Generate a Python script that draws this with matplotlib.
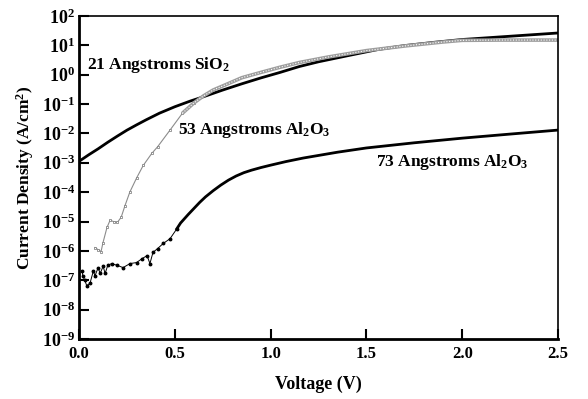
import numpy as np
import matplotlib
matplotlib.use("Agg")
import matplotlib.pyplot as plt
from matplotlib.ticker import FixedLocator, FixedFormatter

# 21 Angstroms SiO2 (solid black)
v_sio2 = [0.0, 0.05, 0.1, 0.15, 0.2, 0.25, 0.3, 0.35, 0.42, 0.5, 0.58, 0.65,
          0.75, 0.85, 0.95, 1.05, 1.15, 1.25, 1.4, 1.56, 1.7, 1.85, 2.0,
          2.25, 2.5]
j_sio2 = [1.12e-3, 1.86e-3, 3.0e-3, 5.0e-3, 8.1e-3, 1.29e-2, 1.95e-2,
          2.9e-2, 4.9e-2, 8.1e-2, 0.126, 0.178, 0.30, 0.49, 0.78, 1.2, 1.9,
          2.75, 4.4, 7.2, 9.8, 12.6, 15.8, 20.4, 26.3]

# 53 Angstroms Al2O3 (grey, open squares)
v_53 = [0.083, 0.10, 0.115, 0.125, 0.146, 0.162, 0.18, 0.20, 0.22, 0.24,
        0.265, 0.30, 0.335, 0.38, 0.41, 0.475, 0.54, 0.60, 0.65, 0.70, 0.77,
        0.85, 0.95, 1.05, 1.15, 1.30, 1.50, 1.70, 1.90, 2.0, 2.2, 2.5]
j_53 = [1.3e-6, 1.1e-6, 9.5e-7, 1.9e-6, 6.3e-6, 1.1e-5, 1.0e-5, 9.3e-6,
        1.4e-5, 3.5e-5, 1.0e-4, 3.0e-4, 8.1e-4, 2.1e-3, 3.5e-3, 1.3e-2,
        4.9e-2, 0.11, 0.19, 0.30, 0.47, 0.79, 1.2, 1.8, 2.6, 4.0, 6.6, 9.5,
        13.0, 14.8, 15.1, 15.1]

# 73 Angstroms Al2O3 (black dots)
v_73 = [0.016, 0.02, 0.03, 0.04, 0.057, 0.075, 0.083, 0.10, 0.11, 0.126,
        0.136, 0.15, 0.17, 0.20, 0.23, 0.266, 0.30, 0.33, 0.355, 0.37, 0.386,
        0.41, 0.44, 0.475, 0.51, 0.53, 0.57, 0.60, 0.63, 0.66, 0.70, 0.74,
        0.78, 0.82, 0.86, 0.90, 0.95, 1.0, 1.08, 1.17, 1.35, 1.5, 1.75, 2.0,
        2.25, 2.5]
j_73 = [2.1e-7, 1.4e-7, 1.0e-7, 6.6e-8, 7.8e-8, 2.1e-7, 1.4e-7, 2.7e-7,
        1.7e-7, 3.0e-7, 1.7e-7, 3.2e-7, 3.7e-7, 3.2e-7, 2.7e-7, 3.7e-7,
        4.0e-7, 5.5e-7, 6.9e-7, 3.7e-7, 8.9e-7, 1.2e-6, 1.8e-6, 2.6e-6,
        5.6e-6, 8.9e-6, 1.74e-5, 2.8e-5, 4.5e-5, 6.9e-5, 1.12e-4, 1.74e-4,
        2.57e-4, 3.55e-4, 4.6e-4, 5.6e-4, 6.9e-4, 8.3e-4, 1.1e-3, 1.45e-3,
        2.3e-3, 3.2e-3, 4.8e-3, 6.9e-3, 9.5e-3, 1.3e-2]

x_ticks = [0.0, 0.5, 1.0, 1.5, 2.0, 2.5]
x_tick_labels = ["0.0", "0.5", "1.0", "1.5", "2.0", "2.5"]
y_exponents = list(range(-9, 3))

plt.rcParams["font.family"] = "Liberation Serif"
plt.rcParams["font.weight"] = "bold"
plt.rcParams["mathtext.fontset"] = "custom"
plt.rcParams["mathtext.rm"] = "Liberation Serif:bold"
plt.rcParams["mathtext.it"] = "Liberation Serif:bold:italic"
plt.rcParams["mathtext.bf"] = "Liberation Serif:bold"

fig = plt.figure(figsize=(5.88, 3.99), dpi=100)
ax = fig.add_axes([0.1344, 0.1504, 0.8146, 0.8096])

ax.plot(v_sio2, j_sio2, color="black", lw=2.0)

# 53 A: noisy low-voltage part with open squares, dense upper part as a grey band
n53 = 17
ax.plot(v_53[:n53 + 1], j_53[:n53 + 1], color="0.55", lw=0.8, marker="s",
        ms=2.0, mfc="white", mec="0.45", mew=0.5)
ax.plot(v_53[n53 - 1:], j_53[n53 - 1:], color="0.62", lw=2.6,
        solid_capstyle="butt")
ax.plot(v_53[n53 - 1:], j_53[n53 - 1:], color="white", lw=0.8,
        linestyle=(0, (1, 1.5)))

# 73 A: noisy part as dots, dense upper part reads as a solid line
n73 = 24
ax.plot(v_73[:n73 + 1], j_73[:n73 + 1], color="black", lw=0.7, marker="o",
        ms=1.8, mfc="black", mec="black")
ax.plot(v_73[n73:], j_73[n73:], color="black", lw=2.0)

ax.set_yscale("log")
ax.set_xlim(0, 2.5)
ax.set_ylim(1e-9, 1e2)

ax.xaxis.set_major_locator(FixedLocator(x_ticks))
ax.xaxis.set_major_formatter(FixedFormatter(x_tick_labels))
ax.yaxis.set_major_locator(FixedLocator([10.0 ** e for e in y_exponents]))
ax.yaxis.set_major_formatter(
    FixedFormatter([r"$10^{%d}$" % e for e in y_exponents]))
ax.yaxis.set_minor_locator(FixedLocator([]))

ax.tick_params(axis="both", direction="in", length=7, width=1.5)
ax.tick_params(axis="x", labelsize=12, pad=5)
ax.tick_params(axis="y", labelsize=13, pad=3)
for side in ["left", "bottom"]:
    ax.spines[side].set_linewidth(2.0)
for side in ["top", "right"]:
    ax.spines[side].set_linewidth(1.2)

ax.set_xlabel("Voltage (V)", fontsize=13, fontweight="bold", labelpad=10)
ax.set_ylabel("Current Density (A/cm$^2$)", fontsize=12.5,
              fontweight="bold", labelpad=4)

ax.text(0.04, 2.2, "21 Angstroms SiO$_2$", fontsize=12.5, fontweight="bold",
        va="center", ha="left")
ax.text(0.515, 1.3e-2, "53 Angstroms Al$_2$O$_3$", fontsize=12.5,
        fontweight="bold", va="center", ha="left")
ax.text(1.55, 1.1e-3, "73 Angstroms Al$_2$O$_3$", fontsize=12.5,
        fontweight="bold", va="center", ha="left")

fig.savefig("out.png", dpi=100)
